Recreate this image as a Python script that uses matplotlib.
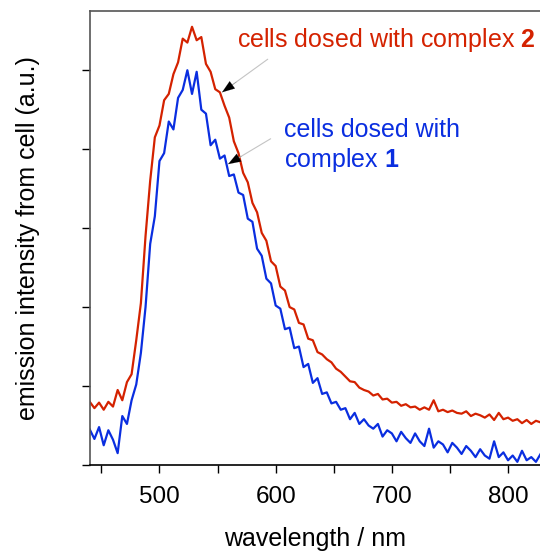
import numpy as np
import matplotlib
matplotlib.use("Agg")
import matplotlib.pyplot as plt
from matplotlib.ticker import MultipleLocator, FuncFormatter

plt.rcParams['font.family'] = ['Liberation Sans', 'DejaVu Sans']
plt.rcParams['mathtext.fontset'] = 'custom'
plt.rcParams['mathtext.rm'] = 'Liberation Sans'
plt.rcParams['mathtext.bf'] = 'Liberation Sans:bold'

# wavelength grid (nm), 4 nm steps
wavelength = np.arange(440, 829, 4)

# emission (arbitrary units, 1 unit = one y tick)
complex2 = [0.80, 0.72, 0.79, 0.70, 0.80, 0.74, 0.95, 0.82, 1.05, 1.15,
            1.58, 2.05, 2.90, 3.60, 4.15, 4.30, 4.62, 4.70, 4.95, 5.10,
            5.40, 5.35, 5.55, 5.38, 5.42, 5.08, 4.98, 4.76, 4.72, 4.55,
            4.40, 4.10, 3.95, 3.70, 3.58, 3.32, 3.20, 2.94, 2.84, 2.58,
            2.52, 2.26, 2.21, 2.00, 1.97, 1.80, 1.78, 1.60, 1.58, 1.43,
            1.40, 1.34, 1.30, 1.22, 1.18, 1.12, 1.06, 1.05, 0.98, 0.95,
            0.93, 0.88, 0.90, 0.83, 0.84, 0.79, 0.80, 0.75, 0.77, 0.73,
            0.74, 0.70, 0.73, 0.70, 0.82, 0.68, 0.70, 0.67, 0.69, 0.66,
            0.65, 0.68, 0.62, 0.65, 0.63, 0.60, 0.64, 0.57, 0.66, 0.58,
            0.60, 0.56, 0.58, 0.53, 0.57, 0.52, 0.56, 0.54]

complex1 = [0.45, 0.33, 0.48, 0.25, 0.44, 0.32, 0.15, 0.62, 0.52, 0.82,
            1.02, 1.42, 2.00, 2.80, 3.15, 3.85, 3.95, 4.35, 4.25, 4.65,
            4.75, 5.00, 4.70, 4.98, 4.50, 4.45, 4.05, 4.12, 3.88, 3.92,
            3.66, 3.68, 3.45, 3.42, 3.12, 3.08, 2.74, 2.65, 2.36, 2.30,
            2.02, 1.98, 1.72, 1.74, 1.48, 1.50, 1.24, 1.28, 1.04, 1.10,
            0.90, 0.92, 0.78, 0.80, 0.70, 0.72, 0.58, 0.66, 0.52, 0.58,
            0.50, 0.46, 0.52, 0.36, 0.44, 0.40, 0.30, 0.42, 0.34, 0.28,
            0.40, 0.30, 0.24, 0.46, 0.22, 0.30, 0.26, 0.16, 0.28, 0.22,
            0.14, 0.24, 0.18, 0.10, 0.20, 0.12, 0.08, 0.30, 0.10, 0.16,
            0.06, 0.12, 0.04, 0.18, 0.06, 0.10, 0.04, 0.14]

red = '#d42200'
blue = '#0a2ee0'

fig = plt.figure(figsize=(5.4, 5.52), dpi=100)
ax = fig.add_axes([90 / 540, 87 / 552, 1 - 90 / 540, 454 / 552])

ax.plot(wavelength, complex2, color=red, lw=1.6)
ax.plot(wavelength, complex1, color=blue, lw=1.6)

ax.set_xlim(440.2, 827.5)
ax.set_ylim(0, 5.75)

ax.xaxis.set_major_locator(MultipleLocator(50))
ax.xaxis.set_major_formatter(FuncFormatter(lambda v, p: f"{v:.0f}" if v % 100 == 0 else ""))
ax.yaxis.set_major_locator(MultipleLocator(1))
ax.set_yticklabels([])
ax.tick_params(direction='out', length=6, width=1.0, labelsize=17.5, pad=9)

ax.spines['right'].set_visible(False)
ax.spines['top'].set_color('#555555')
ax.spines['left'].set_color('#555555')
for s in ['top', 'left', 'bottom']:
    ax.spines[s].set_linewidth(1.2)

ax.set_xlabel('wavelength / nm', fontsize=18, labelpad=14)
ax.set_ylabel('emission intensity from cell (a.u.)', fontsize=18, labelpad=21)

# labels with pointer arrows
ax.text(566.7, 5.29, r'cells dosed with complex $\mathbf{2}$', color=red,
        fontsize=18, ha='left', va='baseline')
ax.text(607.2, 4.15, 'cells dosed with', color=blue,
        fontsize=18, ha='left', va='baseline')
ax.text(607.2, 3.78, r'complex $\mathbf{1}$', color=blue,
        fontsize=18, ha='left', va='baseline')

arrows = [((595.1, 5.16), (553.8, 4.72)), ((597.7, 4.15), (559.0, 3.81))]
for start, tip in arrows:
    ax.annotate('', xy=tip, xytext=start,
                arrowprops=dict(arrowstyle='-', color='#c4c4c4', lw=0.8))
    back = (tip[0] + (start[0] - tip[0]) * 0.3, tip[1] + (start[1] - tip[1]) * 0.3)
    ax.annotate('', xy=tip, xytext=back,
                arrowprops=dict(arrowstyle='-|>,head_length=0.9,head_width=0.32',
                                color='black', lw=0.1, shrinkA=0, shrinkB=0))

fig.savefig('out.png', dpi=100)
